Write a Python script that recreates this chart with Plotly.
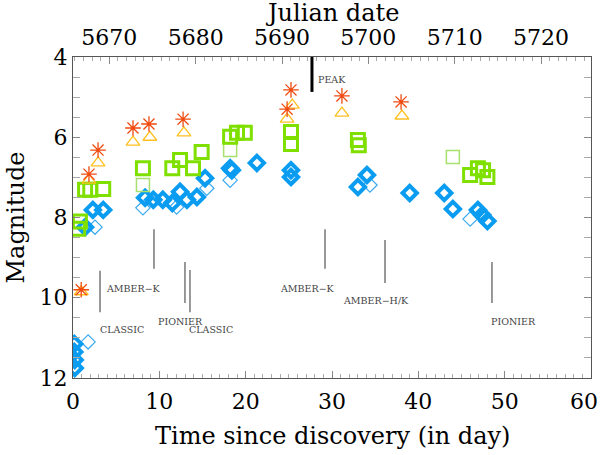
import plotly.graph_objects as go

# ---- data (days since discovery, magnitude) ----
ast_day = [0.95, 1.85, 2.9, 6.95, 8.8, 12.75, 24.8, 25.25, 31.15, 38.0]
ast_mag = [9.8, 6.92, 6.32, 5.77, 5.67, 5.55, 5.30, 4.82, 4.97, 5.12]

tri_day = [0.95, 1.85, 2.9, 6.95, 8.9, 12.85, 24.8, 25.4, 31.15, 38.1]
tri_mag = [9.85, 7.07, 6.64, 6.12, 6.0, 5.89, 5.55, 5.2, 5.4, 5.47]

sq_day = [0.6, 0.8, 1.4, 2.0, 3.5, 8.1, 11.5, 12.4, 13.9, 14.9, 18.2, 19.0, 19.9,
          25.25, 25.25, 33.0, 33.1, 46.0, 46.9, 47.5, 48.0]
sq_mag = [8.28, 8.1, 7.31, 7.31, 7.29, 6.77, 6.77, 6.57, 6.77, 6.37, 5.99, 5.89, 5.89,
          5.87, 6.17, 6.07, 6.2, 6.94, 6.77, 6.82, 6.99]

sq_thin_day = [8.1, 18.2, 44.0]
sq_thin_mag = [7.19, 6.32, 6.49]

dia_day = [0.15, 0.15, 0.2, 0.2, 1.4, 2.3, 3.5, 8.35, 9.3, 10.4, 11.5, 12.4, 13.2, 14.35,
           15.3, 18.2, 18.4, 21.3, 25.25, 25.25, 33.0, 34.05, 39.0, 43.0, 44.0, 46.9,
           47.4, 48.0]
dia_mag = [11.15, 11.35, 11.55, 11.75, 8.24, 7.81, 7.81, 7.51, 7.56, 7.56, 7.64, 7.36, 7.56,
           7.49, 7.02, 6.77, 6.82, 6.64, 6.82, 6.99, 7.24, 6.94, 7.39, 7.39, 7.79, 7.81,
           7.94, 8.09]

dia_thin_day = [1.75, 2.55, 8.1, 12.0, 15.5, 18.2, 34.4, 46.0]
dia_thin_mag = [11.1, 8.24, 7.76, 7.74, 7.27, 7.07, 7.19, 8.04]

# observation markers: x, top mag, bottom mag, label, label x, label y
obs_x = [3.13, 9.38, 12.97, 13.55, 29.19, 36.14, 48.53]
obs_top = [9.33, 8.29, 9.11, 9.31, 8.29, 8.56, 9.11]
obs_bot = [10.36, 9.28, 10.13, 10.36, 9.28, 9.63, 10.13]
obs_label = ["CLASSIC", "AMBER\u2212K", "PIONIER", "CLASSIC", "AMBER\u2212K",
             "AMBER\u2212H/K", "PIONIER"]
obs_lx = [5.7, 6.95, 12.5, 16.0, 27.2, 35.1, 51.0]
obs_ly = [10.78, 9.76, 10.58, 10.78, 9.76, 10.06, 10.58]

peak_x = 27.68
peak_top, peak_bot = 4.0, 4.87
peak_lx, peak_ly = 30.0, 4.57

jd0 = 5665.79  # JD - 2450000 at discovery
x_range = [0, 60]
y_range = [12, 4]
y_ticks = [4, 6, 8, 10, 12]
x_ticks = [0, 10, 20, 30, 40, 50, 60]
x_ticklabels = ["0", "10", "20", "30", "40", "50", "60"]
jd_ticks = [5670, 5680, 5690, 5700, 5710, 5720]

x_title = "Time since discovery (in day)"
x2_title = "Julian date"
y_title = "Magnitude"

FONT = "DejaVu Serif"
fig = go.Figure()

fig.add_trace(go.Scatter(x=dia_thin_day, y=dia_thin_mag, mode="markers",
                         marker=dict(symbol="diamond-open", size=11, color="#3AAAF0",
                                     line=dict(width=1.2, color="#3AAAF0")), showlegend=False))
fig.add_trace(go.Scatter(x=dia_day, y=dia_mag, mode="markers",
                         marker=dict(symbol="diamond-open", size=11, color="#0A9CF0",
                                     line=dict(width=4, color="#0A9CF0")), showlegend=False))
fig.add_trace(go.Scatter(x=sq_thin_day, y=sq_thin_mag, mode="markers",
                         marker=dict(symbol="square-open", size=13, color="#A8E070",
                                     line=dict(width=1.5, color="#A8E070")), showlegend=False))
fig.add_trace(go.Scatter(x=sq_day, y=sq_mag, mode="markers",
                         marker=dict(symbol="square-open", size=13, color="#7FE000",
                                     line=dict(width=3, color="#7FE000")), showlegend=False))
fig.add_trace(go.Scatter(x=tri_day, y=tri_mag, mode="markers",
                         marker=dict(symbol="triangle-up-open", size=12, color="#FFC020",
                                     line=dict(width=1.3, color="#FFC020")), showlegend=False))
fig.add_trace(go.Scatter(x=ast_day, y=ast_mag, mode="markers",
                         marker=dict(symbol="asterisk-open", size=13, color="#F04A10",
                                     line=dict(width=1.3, color="#F04A10")), showlegend=False))

# dummy trace for the top (Julian date) axis
fig.add_trace(go.Scatter(x=[jd0 + x_range[0], jd0 + x_range[1]], y=[8, 8], xaxis="x2",
                         mode="markers", marker=dict(opacity=0), showlegend=False,
                         hoverinfo="skip"))

for x, t, b in zip(obs_x, obs_top, obs_bot):
    fig.add_shape(type="line", x0=x, x1=x, y0=t, y1=b, xref="x", yref="y",
                  line=dict(color="#555555", width=1.2))
for lab, lx, ly in zip(obs_label, obs_lx, obs_ly):
    fig.add_annotation(x=lx, y=ly, text=lab, showarrow=False, xref="x", yref="y",
                       font=dict(family=FONT, size=9.5, color="#444444"))
fig.add_shape(type="line", x0=peak_x, x1=peak_x, y0=peak_top, y1=peak_bot,
              xref="x", yref="y", line=dict(color="black", width=3))
fig.add_annotation(x=peak_lx, y=peak_ly, text="PEAK", showarrow=False, xref="x", yref="y",
                   font=dict(family=FONT, size=9.5, color="#444444"))

tickfont = dict(family=FONT, size=22, color="black")
titlefont = dict(family=FONT, size=24, color="black")

# last bottom tick label kept inside the page (as in the reference)
fig.add_annotation(text=x_ticklabels[-1], x=x_ticks[-1], xref="x", yref="paper", y=0,
                   xanchor="right", yanchor="middle", xshift=9, yshift=-23,
                   showarrow=False, font=tickfont)

# axis titles
fig.add_annotation(text=x_title, xref="paper", yref="paper", x=0.5, y=0, yanchor="middle",
                   yshift=-58, showarrow=False, font=titlefont)
fig.add_annotation(text=x2_title, xref="paper", yref="paper", x=0.5, y=1, yanchor="middle",
                   yshift=44, showarrow=False, font=titlefont)
fig.add_annotation(text=y_title, xref="paper", yref="paper", x=0, y=0.5, xanchor="center",
                   xshift=-58, textangle=-90, showarrow=False, font=titlefont)

fig.update_layout(
    width=600, height=455,
    margin=dict(l=73, r=9, t=57, b=77),
    paper_bgcolor="white", plot_bgcolor="white",
    xaxis=dict(range=x_range, tickvals=x_ticks,
               ticktext=x_ticklabels[:-1] + [""], ticks="inside", ticklen=7,
               tickcolor="#888888", showline=True, linecolor="#555555", mirror=True,
               showgrid=False, zeroline=False, tickfont=tickfont, automargin=False,
               ticklabelstandoff=4,
               minor=dict(dtick=1, ticks="inside", ticklen=4, tickcolor="#aaaaaa")),
    xaxis2=dict(range=[jd0 + x_range[0], jd0 + x_range[1]], tickvals=jd_ticks,
                overlaying="x", side="top", anchor="y", ticks="inside", ticklen=7,
                tickcolor="#888888", showgrid=False, zeroline=False, tickfont=tickfont,
                automargin=False, ticklabelstandoff=7,
                minor=dict(dtick=1, ticks="inside", ticklen=4, tickcolor="#aaaaaa")),
    yaxis=dict(range=y_range, tickvals=y_ticks, ticks="inside", ticklen=7,
               tickcolor="#888888", showline=True, linecolor="#555555", mirror="allticks",
               showgrid=False, zeroline=False, tickfont=tickfont, automargin=False,
               minor=dict(dtick=0.5, ticks="inside", ticklen=4, tickcolor="#aaaaaa")),
)

fig.write_html("out.html", config={"displayModeBar": False},
               post_script="document.body.style.margin='0';")
